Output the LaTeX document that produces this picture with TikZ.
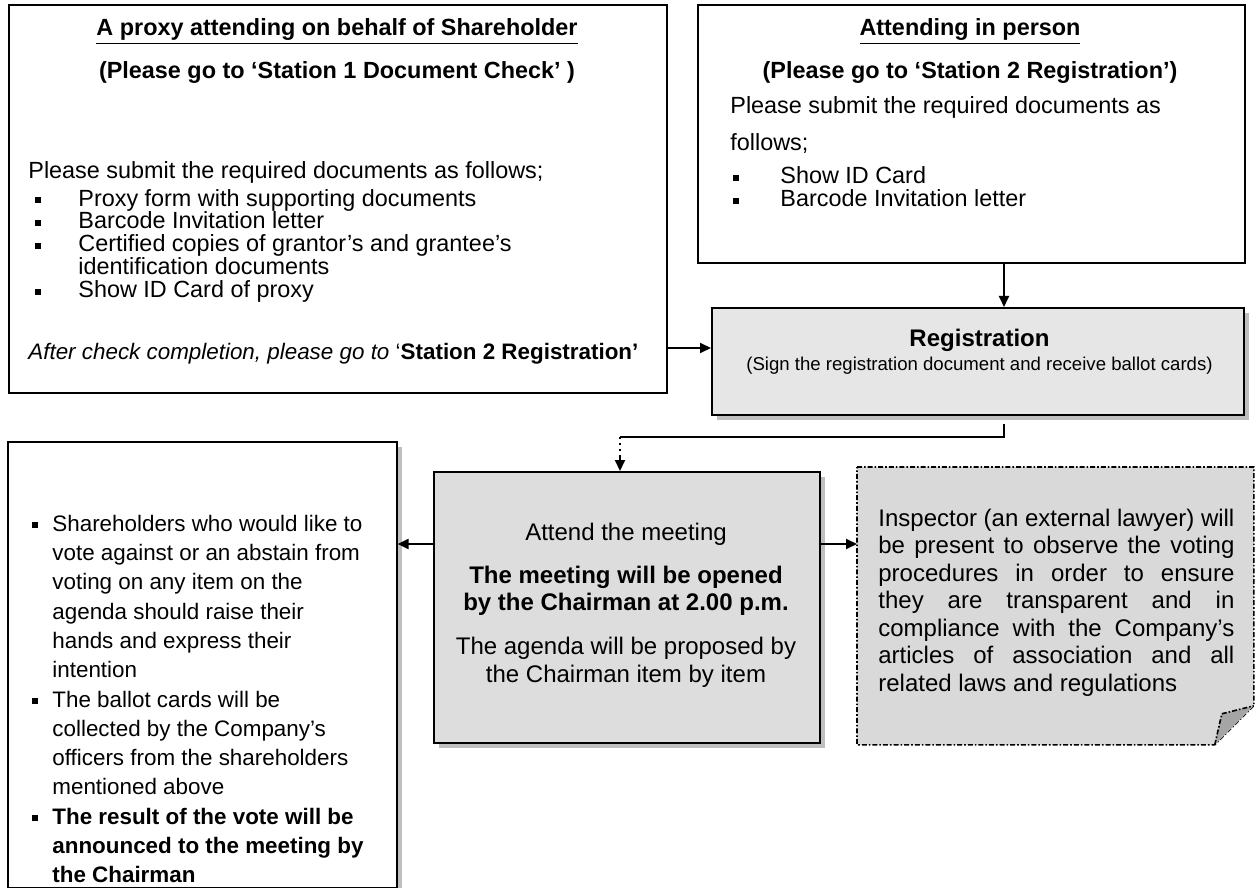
\documentclass[tikz,border=0pt]{standalone}
\usepackage{fontspec}
\setmainfont{Liberation Sans}
\usetikzlibrary{arrows.meta, positioning, shadows, calc}
\definecolor{regfill}{RGB}{230,230,230}
\definecolor{meetfill}{RGB}{221,221,221}
\definecolor{notefill}{RGB}{217,217,217}
\definecolor{foldfill}{RGB}{165,165,165}
\definecolor{shadowgray}{RGB}{191,191,191}

\newcommand{\sqbullet}{\rule[1.6pt]{3pt}{3pt}}
\newcommand{\tightlines}{\lineskiplimit=-20pt\relax\parskip=0pt\relax}
% bullet item: #1 bullet offset, #2 text offset, #3 text
\newcommand{\sqitem}[3]{\par\noindent\hangindent=#2\hangafter=1\hspace*{#1}\makebox[\dimexpr#2-#1\relax][l]{\sqbullet}#3\par}

\begin{document}
\begin{tikzpicture}[x=0.5pt, y=-0.5pt,
    plainbox/.style={draw, line width=0.8pt, inner sep=0pt, anchor=north west},
    shadebox/.style={plainbox, drop shadow={shadow xshift=2.5pt, shadow yshift=-2.5pt, fill=shadowgray, opacity=1}},
    bodytext/.style={inner sep=0pt, font=\fontsize{11.7}{11.5}\selectfont\tightlines},
    dashdot/.style={line width=0.8pt, dash pattern=on 2.5pt off 1pt on 0.8pt off 1pt},
    arr/.style={line width=1pt, -{Triangle[length=5.5pt, width=5pt]}},
    conn/.style={line width=1pt}]
    \useasboundingbox (0,0) rectangle (1255,888);
    \fill[white] (0,0) rectangle (1255,888);

    % boxes
    \node[plainbox, minimum width=329pt, minimum height=194pt] (proxy) at (8,4) {};
    \node[plainbox, minimum width=273.5pt, minimum height=129pt] (person) at (697,4) {};
    \node[shadebox, fill=regfill, minimum width=266pt, minimum height=53.5pt] (reg) at (711,307) {};
    \node[shadebox, fill=white, minimum width=194.5pt, minimum height=223pt] (vote) at (7,441) {};
    \node[shadebox, fill=meetfill, minimum width=193pt, minimum height=135.5pt] (meet) at (433,471) {};
    \node[inner sep=0pt, anchor=north west, minimum width=198pt, minimum height=138.5pt] (inspect) at (857,467) {};

    % note with folded corner
    \filldraw[dashdot, fill=notefill] (inspect.north west) -- (inspect.north east)
        -- ([yshift=19.5pt]inspect.south east) -- ([xshift=-19.5pt]inspect.south east)
        -- (inspect.south west) -- cycle;
    \filldraw[dashdot, fill=foldfill] ([xshift=-19.5pt]inspect.south east)
        -- ([xshift=-16pt, yshift=15.5pt]inspect.south east) -- ([yshift=19.5pt]inspect.south east);

    % texts
    \node[bodytext, anchor=base, text width=315pt, align=flush center] (proxytitle) at (337,36)
        {\textbf{\underline{A proxy attending on behalf of Shareholder}}\\[10pt]
         \textbf{(Please go to ‘Station 1 Document Check’ )}};
    \node[bodytext, anchor=base west, text width=320pt, align=flush left] (proxylist) at (28,179)
        {Please submit the required documents as follows;\\[2pt]
         \sqitem{3.5pt}{25pt}{Proxy form with supporting documents}
         \sqitem{3.5pt}{25pt}{Barcode Invitation letter}
         \sqitem{3.5pt}{25pt}{Certified copies of grantor’s and grantee’s\newline identification documents}
         \sqitem{3.5pt}{25pt}{Show ID Card of proxy}
         \vspace{19.5pt}
         \mbox{\fontsize{11.2}{11.5}\selectfont\textit{After check completion, please go to }‘\textbf{Station 2 Registration’}}};

    \node[bodytext, anchor=base, text width=265pt, align=flush center] (persontitle) at (970,36)
        {\textbf{\underline{Attending in person}}\\[10pt]
         \textbf{(Please go to ‘Station 2 Registration’)}};
    \node[bodytext, anchor=base west, text width=240pt, align=flush left] (personlist) at (730,114)
        {Please submit the required documents as\\[7pt]
         follows;\\[5pt]
         \sqitem{1.5pt}{25pt}{Show ID Card}
         \sqitem{1.5pt}{25pt}{Barcode Invitation letter}};

    \node[inner sep=0pt, anchor=base, text width=260pt, align=flush center, font=\fontsize{12}{14}\selectfont] (regtext) at (979.5,346)
        {\textbf{Registration}\\[-1.5pt]
         {\fontsize{9.3}{11}\selectfont (Sign the registration document and receive ballot cards)}};

    \node[bodytext, anchor=base, text width=180pt, align=flush center, font=\fontsize{12}{13.75}\selectfont] (meettext) at (626,540)
        {Attend the meeting\\[7.75pt]
         \textbf{The meeting will be opened\\by the Chairman at 2.00 p.m.}\\[8.25pt]
         The agenda will be proposed by\\the Chairman item by item};

    \node[bodytext, anchor=base west, text width=178pt, align=justify, font=\fontsize{12}{13.75}\selectfont] (inspecttext) at (878,526)
        {Inspector (an external lawyer) will\linebreak
         be present to observe the voting\linebreak
         procedures in order to ensure\linebreak
         they are transparent and in\linebreak
         compliance with the Company’s\linebreak
         articles of association and all\linebreak
         related laws and regulations};

    \node[bodytext, anchor=base west, text width=175pt, align=flush left, font=\fontsize{11.2}{14.65}\selectfont] (votetext) at (32,502)
        {\sqitem{0pt}{10pt}{Shareholders who would like to\newline vote against or an abstain from\newline voting on any item on the\newline agenda should raise their\newline hands and express their\newline intention}
         \sqitem{0pt}{10pt}{The ballot cards will be\newline collected by the Company’s\newline officers from the shareholders\newline mentioned above}
         \sqitem{0pt}{10pt}{\textbf{The result of the vote will be\newline announced to the meeting by\newline the Chairman}}};

    % connectors
    \coordinate (regcol) at (1004,0);
    \coordinate (toprow) at (0,348);
    \coordinate (midrow) at (0,544);
    \coordinate (turn) at (620,437);
    \coordinate (dotend) at (620,456);
    \draw[arr] (person.south -| regcol) -- (reg.north -| regcol);
    \draw[arr] (proxy.east |- toprow) -- (reg.west |- toprow);
    \draw[conn] ($(reg.south -| regcol)+(0,8)$) |- (turn);
    \draw[conn, dotted] (turn) -- (dotend);
    \draw[arr] (dotend) -- (meet.north -| dotend);
    \draw[arr] (meet.west |- midrow) -- (vote.east |- midrow);
    \draw[arr] (meet.east |- midrow) -- (inspect.west |- midrow);
\end{tikzpicture}
\end{document}
